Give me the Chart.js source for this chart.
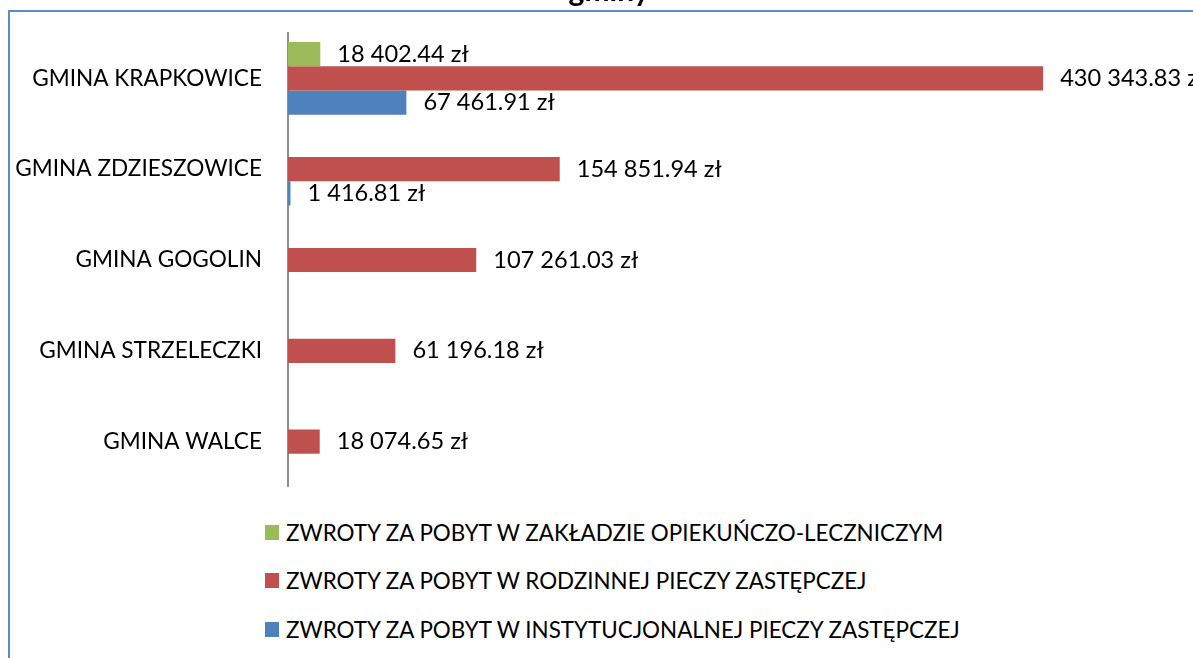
<!DOCTYPE html>
<html>
<head>
<meta charset="utf-8">
<script src="https://cdn.jsdelivr.net/npm/chart.js@4.4.0/dist/chart.umd.min.js"></script>
<style>
    html, body { margin: 0; padding: 0; background: #fff; }
    #wrap { position: relative; width: 1193px; height: 658px; overflow: hidden; font-family: Lato, sans-serif; }
    #frame { position: absolute; left: 8px; top: 10px; width: 1300px; height: 700px;
             border-top: 2px solid #5b8bcf; border-left: 2px solid #5b8bcf; }
    #chart { position: absolute; left: 0; top: -27px; }
    #legend { position: absolute; left: 265px; top: 508px; margin: 0; padding: 0; list-style: none; }
    #legend li { display: flex; align-items: center; height: 48.5px; font-size: 22.4px; color: #000; white-space: nowrap; }
    #legend li span { display: inline-block; width: 14px; height: 15px; margin-right: 7px; }
</style>
</head>
<body>
<div id="wrap">
    <div id="frame"></div>
    <canvas id="chart" width="1218" height="514"></canvas>
    <ul id="legend"></ul>
</div>
<script>
const gminy = ["GMINA KRAPKOWICE", "GMINA ZDZIESZOWICE", "GMINA GOGOLIN", "GMINA STRZELECZKI", "GMINA WALCE"];
const zwrotyZol = [18402.44, null, null, null, null];
const zwrotyRodzinna = [430343.83, 154851.94, 107261.03, 61196.18, 18074.65];
const zwrotyInstytucjonalna = [67461.91, 1416.81, null, null, null];
const serie = [
    "ZWROTY ZA POBYT W ZAKŁADZIE OPIEKUŃCZO-LECZNICZYM",
    "ZWROTY ZA POBYT W RODZINNEJ PIECZY ZASTĘPCZEJ",
    "ZWROTY ZA POBYT W INSTYTUCJONALNEJ PIECZY ZASTĘPCZEJ"
];
const kolory = ["#9bbb59", "#c0504d", "#4f81bd"];

const FONT = "Lato";

const formatZl = (v) => {
    const [int, dec] = v.toFixed(2).split(".");
    return int.replace(/\B(?=(\d{3})+(?!\d))/g, " ") + "." + dec + " zł";
};

// podpisy wartości przy słupkach
const valueLabels = {
    id: "valueLabels",
    afterDatasetsDraw(chart) {
        const ctx = chart.ctx;
        ctx.save();
        ctx.font = "23.6px " + FONT;
        ctx.fillStyle = "#000";
        ctx.textBaseline = "middle";
        chart.data.datasets.forEach((ds, i) => {
            chart.getDatasetMeta(i).data.forEach((bar, j) => {
                if (ds.data[j] == null) return;
                ctx.fillText(formatZl(ds.data[j]), bar.x + 17, bar.y);
            });
        });
        ctx.restore();
    }
};

// legenda w HTML, pionowo pod wykresem
const htmlLegend = {
    id: "htmlLegend",
    afterUpdate(chart) {
        const ul = document.getElementById("legend");
        ul.innerHTML = "";
        const items = chart.options.plugins.legend.labels.generateLabels(chart);
        items.forEach(item => {
            const li = document.createElement("li");
            const box = document.createElement("span");
            box.style.background = item.fillStyle;
            li.appendChild(box);
            li.appendChild(document.createTextNode(item.text));
            ul.appendChild(li);
        });
    }
};

new Chart(document.getElementById("chart"), {
    type: "bar",
    data: {
        labels: gminy,
        datasets: [
            { label: serie[0], data: zwrotyZol, backgroundColor: kolory[0] },
            { label: serie[1], data: zwrotyRodzinna, backgroundColor: kolory[1] },
            { label: serie[2], data: zwrotyInstytucjonalna, backgroundColor: kolory[2] }
        ]
    },
    options: {
        indexAxis: "y",
        responsive: false,
        animation: false,
        categoryPercentage: 0.8,
        barPercentage: 1,
        layout: { padding: 0 },
        plugins: {
            legend: { display: false },
            tooltip: { enabled: false },
            title: {
                display: true,
                text: "gminy",
                color: "#000",
                font: { family: FONT, size: 30, weight: "bold", lineHeight: 1.2 },
                padding: { top: 0, bottom: 24 }
            }
        },
        scales: {
            x: { display: false, min: 0, max: 530000 },
            y: {
                grid: { display: false, drawTicks: false },
                border: { color: "#8c8c8c", width: 2 },
                ticks: { color: "#000", font: { family: FONT, size: 22.6 }, padding: 26 },
                afterFit(scale) {
                    scale.width = 288;
                    // oś ma sięgać do samego dołu płótna
                    scale.paddingTop = 0;
                    scale.paddingBottom = 0;
                }
            }
        }
    },
    plugins: [valueLabels, htmlLegend]
});
</script>
</body>
</html>
